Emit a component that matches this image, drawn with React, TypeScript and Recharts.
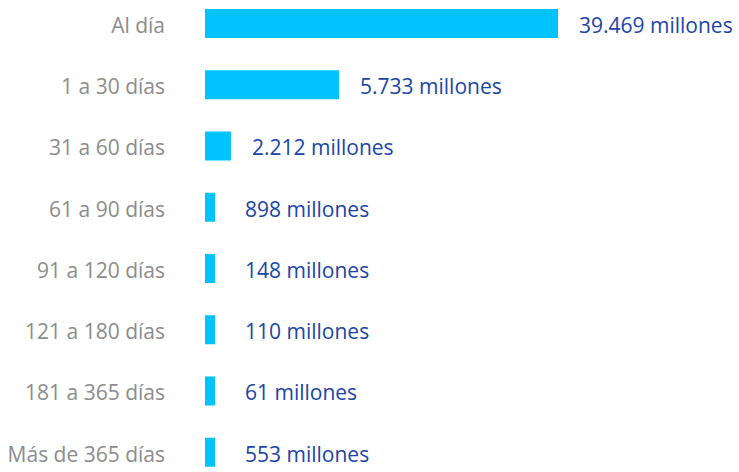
import React from 'react';
import { BarChart, Bar, XAxis, YAxis, LabelList } from 'recharts';

const categories = [
  'Al día',
  '1 a 30 días',
  '31 a 60 días',
  '61 a 90 días',
  '91 a 120 días',
  '121 a 180 días',
  '181 a 365 días',
  'Más de 365 días',
];
const values = [39469, 5733, 2212, 898, 148, 110, 61, 553];
const valueLabels = [
  '39.469 millones',
  '5.733 millones',
  '2.212 millones',
  '898 millones',
  '148 millones',
  '110 millones',
  '61 millones',
  '553 millones',
];

const data = categories.map((c, i) => ({ category: c, value: values[i], label: valueLabels[i] }));

const FONT = '"Open Sans", "Noto Sans", sans-serif';
const BAR_COLOR = '#00C3FF';
const VALUE_COLOR = '#1A45A8';
const CAT_COLOR = '#8C8C8C';

const BarShape = (props: any) => {
  const { x, y, width, height, fill } = props;
  const w = Math.max(width, 10);
  return <rect x={x} y={y} width={w} height={height} fill={fill} />;
};

const ValueLabel = (props: any) => {
  const { x, y, width, height, value } = props;
  const lx = x + Math.max(width, 19) + 21;
  return (
    <text x={lx} y={y + height / 2 + 2} dy="0.35em" fill={VALUE_COLOR} fontSize={21} fontFamily={FONT}>
      {value}
    </text>
  );
};

const CatTick = (props: any) => {
  const { x, y, payload } = props;
  return (
    <text x={x} y={y + 2} dy="0.35em" textAnchor="end" fill={CAT_COLOR} fontSize={21} fontFamily={FONT}>
      {payload.value}
    </text>
  );
};

export default function App() {
  return (
    <div style={{ position: 'absolute', left: 0, top: 0, width: 739, height: 472, overflow: 'hidden', background: '#fff' }}>
      <div style={{ position: 'absolute', left: 0, top: -7 }}>
        <BarChart
          width={739}
          height={490}
          data={data}
          layout="vertical"
          margin={{ top: 0, right: 181, bottom: 0, left: 0 }}
        >
          <XAxis type="number" scale="log" domain={[1760, 39469]} allowDataOverflow hide />
          <YAxis
            type="category"
            dataKey="category"
            width={205}
            tickSize={0}
            tickMargin={40}
            axisLine={false}
            tickLine={false}
            tick={CatTick}
          />
          <Bar dataKey="value" fill={BAR_COLOR} barSize={29} shape={BarShape} isAnimationActive={false}>
            <LabelList dataKey="label" content={ValueLabel} />
          </Bar>
        </BarChart>
      </div>
    </div>
  );
}
